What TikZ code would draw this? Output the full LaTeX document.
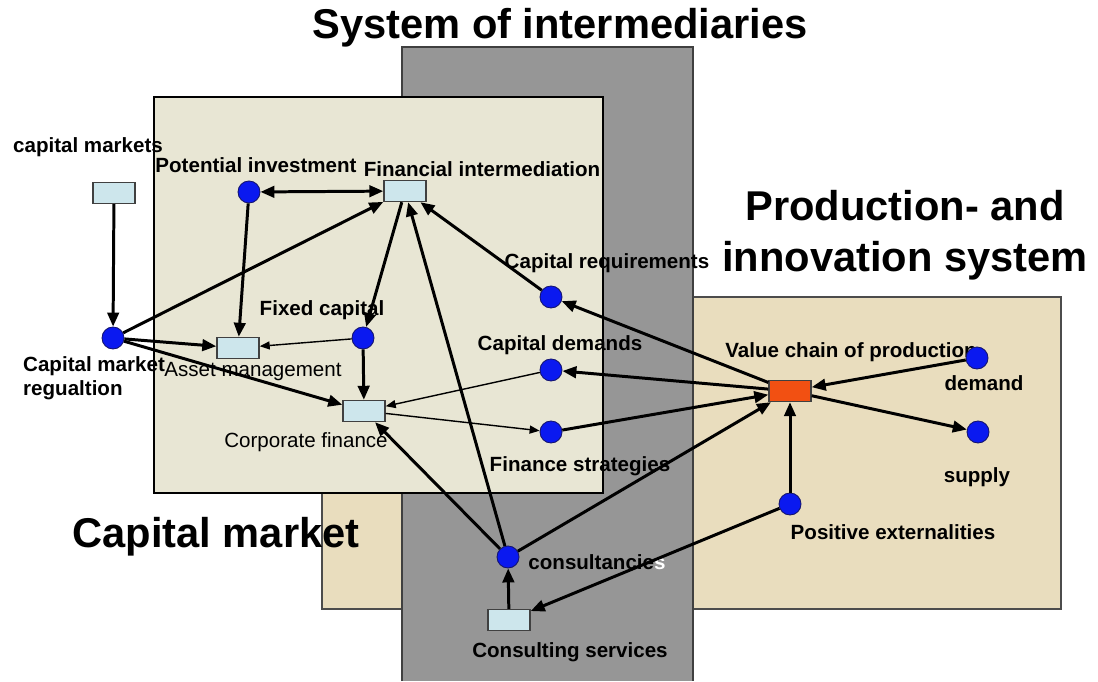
\documentclass[tikz,border=0pt]{standalone}
\usepackage{fontspec}
\setmainfont{Liberation Sans}
\usetikzlibrary{arrows.meta}
\definecolor{tanbg}{RGB}{233,221,190}
\definecolor{greybg}{RGB}{150,150,150}
\definecolor{marketbg}{RGB}{232,230,212}
\definecolor{dotblue}{RGB}{10,25,240}
\definecolor{dotrim}{RGB}{20,20,110}
\definecolor{boxblue}{RGB}{205,230,236}
\definecolor{valred}{RGB}{242,80,18}
\begin{document}
\begin{tikzpicture}[
  dot/.style={circle, fill=dotblue, draw=dotrim, line width=0.5pt, minimum size=0.44cm, inner sep=0pt},
  box/.style={rectangle, fill=boxblue, draw=black!75, line width=0.8pt, minimum width=0.84cm, minimum height=0.42cm, inner sep=0pt},
  lbl/.style={font=\fontsize{11.7}{14}\selectfont\bfseries},
  plain/.style={font=\fontsize{11.7}{14}\selectfont},
  title/.style={font=\fontsize{23.7}{29}\selectfont\bfseries, align=center},
  arr/.style={-{Triangle[length=0.28cm, width=0.23cm]}, line width=1.7pt},
  thinarr/.style={-{Triangle[length=0.2cm, width=0.16cm]}, line width=0.8pt}
]
\useasboundingbox (0,0) rectangle (21.96,13.62);
\draw[fill=tanbg, draw=black!70, line width=0.8pt] (6.44,1.44) rectangle (10.0,7.62);
\draw[fill=tanbg, draw=black!70, line width=0.8pt] (12.0,1.44) rectangle (21.22,7.68);
\fill[greybg] (8.04,0) rectangle (13.86,12.68);
\draw[black!75, line width=0.8pt] (8.04,0) |- (13.86,12.68) -- (13.86,0);
\draw[fill=marketbg, draw=black, line width=1.7pt] (3.08,3.76) rectangle (12.06,11.68);

\node[title] (t-sys) at (11.20,13.06) {System of intermediaries};
\node[title] (t-prod) at (18.10,8.92) {Production- and\\innovation system};
\node[title] (t-cap) at (4.32,2.88) {Capital market};

\node[lbl] (capmkts-l) at (1.76,10.68) {capital markets};
\node[lbl, anchor=north west, align=left] (regul-l) at (0.34,6.62) {Capital market\\regualtion};
\node[lbl] (potinv-l) at (5.12,10.32) {Potential investment};
\node[lbl] (finint-l) at (9.64,10.24) {Financial intermediation};
\node[lbl] (capreq-l) at (12.14,8.36) {Capital requirements};
\node[lbl] (fixcap-l) at (6.44,7.42) {Fixed capital};
\node[plain] (assetm-l) at (5.06,6.18) {Asset management};
\node[plain] (corpfin-l) at (6.12,4.78) {Corporate finance};
\node[lbl] (capdem-l) at (11.20,6.72) {Capital demands};
\node[lbl] (finstrat-l) at (11.60,4.30) {Finance strategies};
\node[lbl] (valchain-l) at (17.02,6.58) {Value chain of production};
\node[lbl] (demand-l) at (19.68,5.96) {demand};
\node[lbl] (supply-l) at (19.54,4.08) {supply};
\node[lbl] (posext-l) at (17.86,2.98) {Positive externalities};
\node[lbl] (consult-l) at (11.94,2.38) {consultancie\textcolor{white}{s}};
\node[lbl] (consserv-l) at (11.40,0.58) {Consulting services};

\node[box] (capmkts) at (2.28,9.76) {};
\node[dot] (regul) at (2.26,6.86) {};
\node[dot] (potinv) at (4.98,9.78) {};
\node[box] (finint) at (8.10,9.80) {};
\node[dot] (capreq) at (11.02,7.68) {};
\node[dot] (fixcap) at (7.26,6.86) {};
\node[box] (assetm) at (4.76,6.66) {};
\node[box] (corpfin) at (7.28,5.40) {};
\node[dot] (capdem) at (11.02,6.22) {};
\node[dot] (finstrat) at (11.02,4.98) {};
\node[box, fill=valred] (valchain) at (15.80,5.80) {};
\node[dot] (demand) at (19.54,6.46) {};
\node[dot] (supply) at (19.56,4.98) {};
\node[dot] (posext) at (15.80,3.54) {};
\node[dot] (consult) at (10.16,2.48) {};
\node[box] (consserv) at (10.18,1.22) {};

\draw[arr] (capmkts) -- (regul);
\draw[arr, {Triangle[length=0.28cm, width=0.23cm]}-{Triangle[length=0.28cm, width=0.23cm]}] (potinv) -- (finint);
\draw[arr] (regul) -- (finint);
\draw[arr] (potinv) -- (assetm);
\draw[arr] (finint) -- (fixcap);
\draw[arr] (regul) -- (assetm);
\draw[thinarr] (fixcap) -- (assetm);
\draw[arr] (fixcap) -- (corpfin);
\draw[arr] (regul) -- (corpfin);
\draw[arr] (capreq) -- (finint);
\draw[arr] (valchain) -- (capreq);
\draw[arr] (valchain) -- (capdem);
\draw[thinarr] (capdem) -- (corpfin);
\draw[thinarr] (corpfin) -- (finstrat);
\draw[arr] (finstrat) -- (valchain);
\draw[arr] (consult) -- (valchain);
\draw[arr] (consult) -- (finint);
\draw[arr] (consult) -- (corpfin);
\draw[arr] (consserv) -- (consult);
\draw[arr] (posext) -- (consserv);
\draw[arr] (posext) -- (valchain);
\draw[arr] (demand) -- (valchain);
\draw[arr] (valchain) -- (supply);
\end{tikzpicture}
\end{document}
